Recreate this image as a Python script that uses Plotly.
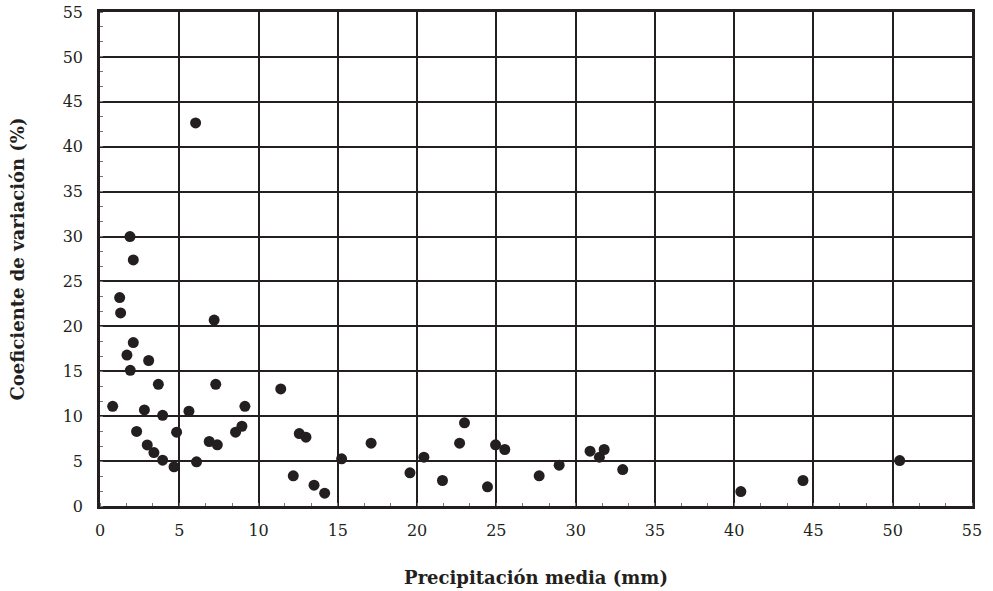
import plotly.graph_objects as go

# Precipitación media (mm)
precip = [0.80, 1.24, 1.30, 1.89, 2.10, 1.70, 1.91, 2.10, 2.31, 2.80,
          3.07, 2.98, 3.40, 3.68, 3.95, 3.95, 4.67, 4.83, 5.61, 6.03,
          6.09, 6.89, 7.20, 7.30, 7.40, 8.55, 8.95, 9.14, 11.40, 12.19,
          12.57, 12.99, 13.50, 14.17, 15.24, 17.10, 19.55, 20.43, 21.60, 22.68,
          22.99, 24.44, 24.95, 25.53, 27.70, 28.96, 30.91, 31.50, 31.80, 32.97,
          40.42, 44.34, 50.44]
# Coeficiente de variación (%)
cv = [11.1, 23.2, 21.5, 30.0, 27.4, 16.8, 15.1, 18.2, 8.3, 10.7,
      16.2, 6.8, 5.95, 13.55, 10.1, 5.1, 4.36, 8.22, 10.55, 42.65,
      4.92, 7.18, 20.7, 13.55, 6.81, 8.22, 8.88, 11.1, 13.04, 3.36,
      8.07, 7.66, 2.32, 1.43, 5.25, 7.0, 3.69, 5.43, 2.84, 6.99,
      9.26, 2.13, 6.81, 6.29, 3.36, 4.54, 6.10, 5.43, 6.29, 4.06,
      1.61, 2.84, 5.06]

tick_vals = list(range(0, 56, 5))

ink = "#231f20"
font_family = "DejaVu Serif"

fig = go.Figure()
fig.add_trace(go.Scatter(
    x=precip, y=cv, mode="markers",
    marker=dict(size=11, color=ink, line=dict(width=0)),
    showlegend=False,
))

axis_common = dict(
    range=[0, 55],
    tickvals=tick_vals,
    showgrid=True, gridcolor=ink, gridwidth=1.7,
    zeroline=False,
    showline=True, linecolor=ink, linewidth=2.5, mirror=True,
    ticks="",
    minor=dict(dtick=5/3, ticks="inside", ticklen=3, tickcolor="#777777",
               tickwidth=1, showgrid=False),
    tickfont=dict(family=font_family, size=16, color=ink),
    ticklabeloverflow="allow",
)

fig.update_xaxes(**axis_common,
                 title=dict(text="<b>Precipitación media (mm)</b>",
                            font=dict(family=font_family, size=18, color=ink),
                            standoff=33),
                 ticklabelstandoff=8)
fig.update_yaxes(**axis_common,
                 title=dict(text="<b>Coeficiente de variación (%)</b>",
                            font=dict(family=font_family, size=18, color=ink),
                            standoff=34),
                 ticklabelstandoff=11)

fig.update_layout(
    width=993, height=591,
    margin=dict(l=100, r=21, t=12, b=85, autoexpand=False),
    plot_bgcolor="white", paper_bgcolor="white",
)

# remove the default page margin so the figure fills the window exactly
fig.write_html("out.html",
               config={"displayModeBar": False},
               post_script="document.body.style.margin='0px';"
                           "document.body.style.overflow='hidden';")
